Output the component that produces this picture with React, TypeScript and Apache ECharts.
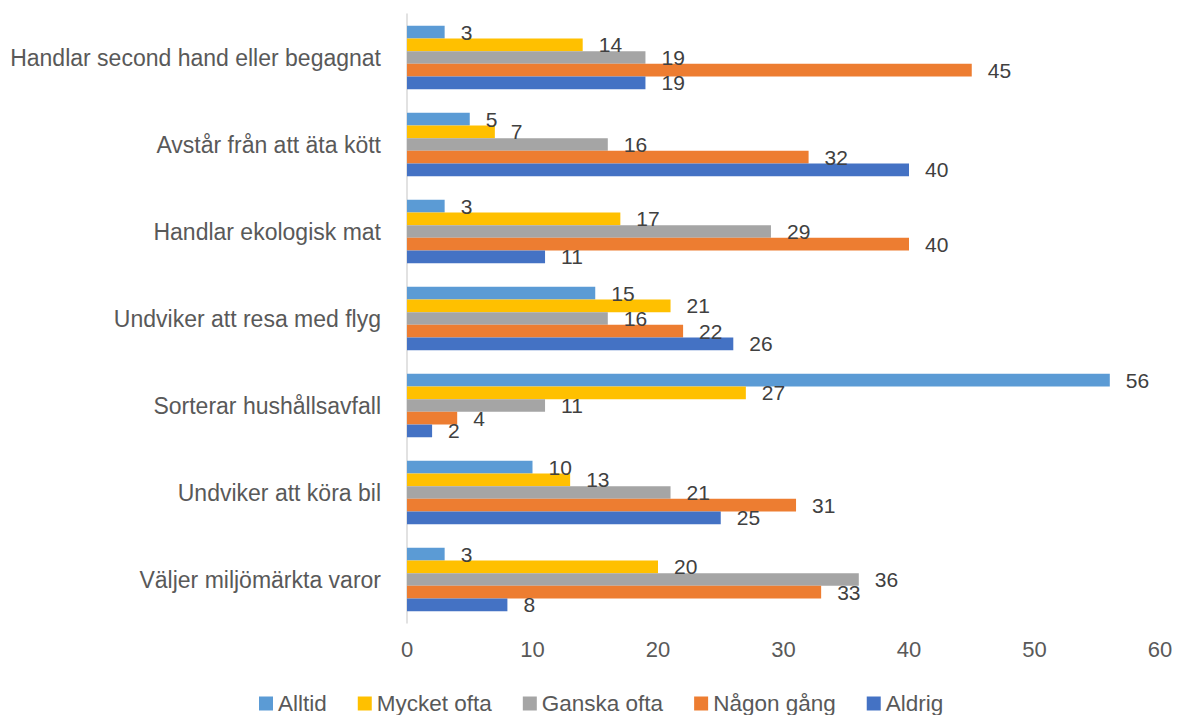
import React, { useEffect, useRef } from "react";
import * as echarts from "echarts";

const categories = [
  "Handlar second hand eller begagnat",
  "Avstår från att äta kött",
  "Handlar ekologisk mat",
  "Undviker att resa med flyg",
  "Sorterar hushållsavfall",
  "Undviker att köra bil",
  "Väljer miljömärkta varor",
];
const seriesNames = ["Alltid", "Mycket ofta", "Ganska ofta", "Någon gång", "Aldrig"];
const alltid = [3, 5, 3, 15, 56, 10, 3];
const mycketOfta = [14, 7, 17, 21, 27, 13, 20];
const ganskaOfta = [19, 16, 29, 16, 11, 21, 36];
const nagonGang = [45, 32, 40, 22, 4, 31, 33];
const aldrig = [19, 40, 11, 26, 2, 25, 8];
const colors = ["#5B9BD5", "#FFC000", "#A5A5A5", "#ED7D31", "#4472C4"];

const FONT = "Liberation Sans";

export default function App() {
  const ref = useRef<HTMLDivElement>(null);
  useEffect(() => {
    document.body.style.margin = "0";
    if (!ref.current) return;
    const chart = echarts.init(ref.current, undefined, { renderer: "svg" });
    const values = [alltid, mycketOfta, ganskaOfta, nagonGang, aldrig];
    chart.setOption({
      animation: false,
      textStyle: { fontFamily: FONT },
      color: colors,
      grid: { left: 407, right: 20, top: 14, bottom: 92, containLabel: false },
      legend: {
        top: 692,
        left: 259,
        padding: 0,
        itemWidth: 14,
        itemHeight: 14,
        itemGap: 31,
        icon: "rect",
        textStyle: { fontSize: 22.5, color: "#595959", fontFamily: FONT },
        data: seriesNames,
      },
      xAxis: {
        type: "value",
        min: 0,
        max: 60,
        interval: 10,
        axisLine: { show: false },
        axisTick: { show: false },
        splitLine: { show: false },
        axisLabel: { fontSize: 22, color: "#595959", margin: 15, fontFamily: FONT },
      },
      yAxis: {
        type: "category",
        inverse: true,
        data: categories,
        axisLine: { show: true, lineStyle: { color: "#D9D9D9", width: 1.5 } },
        axisTick: { show: false },
        axisLabel: { fontSize: 23, color: "#595959", margin: 26, fontFamily: FONT },
      },
      series: seriesNames.map((name, i) => ({
        name,
        type: "bar",
        data: values[i],
        barGap: "0%",
        barCategoryGap: "27%",
        itemStyle: { color: colors[i] },
        label: {
          show: true,
          position: "right",
          distance: 16,
          fontSize: 21,
          color: "#404040",
          fontFamily: FONT,
        },
      })),
    });
    return () => chart.dispose();
  }, []);
  return <div ref={ref} style={{ width: 1180, height: 715 }} />;
}
